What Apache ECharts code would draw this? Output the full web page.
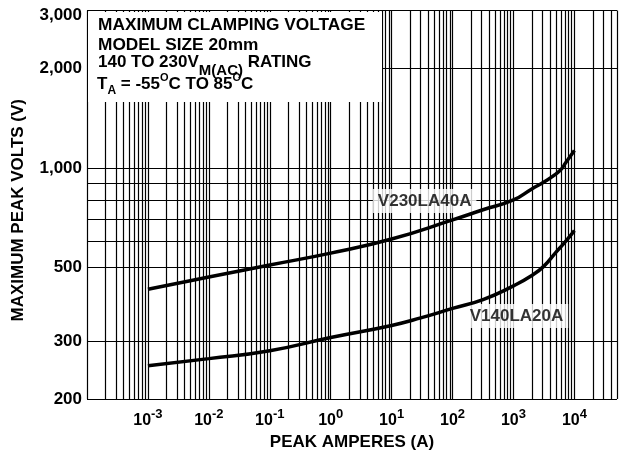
<!DOCTYPE html>
<html><head><meta charset="utf-8">
<script src="https://cdn.jsdelivr.net/npm/echarts@6/dist/echarts.min.js"></script>
<style>html,body{margin:0;padding:0;background:#fff}#c{width:625px;height:456px}</style>
</head><body><div id="c"></div>
<script>
// ---- data ----
const xTickExponents = [-3, -2, -1, 0, 1, 2, 3, 4];
const yTickValues = [200, 300, 500, 1000, 2000, 3000];
const yTickLabels = ['200', '300', '500', '1,000', '2,000', '3,000'];
const yGridValues = [200, 300, 500, 600, 700, 800, 900, 1000, 2000, 3000];
const xGridDecades = [-4, -3, -2, -1, 0, 1, 2, 3, 4];
const xGridMultipliers = [1, 2, 3, 4, 5, 6, 7, 8, 9];
const xMin = 1e-4, xMax = 5e4, yMin = 200, yMax = 3000;

const v230Amps  = [0.001, 0.01, 0.1, 1, 10, 100, 316, 1000, 2000, 3162, 5000, 6300, 7000, 10000];
const v230Volts = [430, 468, 509, 553, 610, 697, 748, 801, 865, 908, 960, 1000, 1030, 1130];
const v140Amps  = [0.001, 0.01, 0.1, 1, 10, 30, 100, 316, 1000, 2000, 3160, 5000, 7000, 10000];
const v140Volts = [252, 265, 280, 307, 334, 352, 376, 400, 440, 473, 505, 557, 597, 647];

const curveLabelNames = ['V230LA40A', 'V140LA20A'];
const curveLabelAmps  = [34.8, 1120];
const curveLabelVolts = [795, 357];

// ---- build ----
const FONT = '"Liberation Sans", Arial, Helvetica, sans-serif';
const vGrid = [];
xGridDecades.forEach(e => xGridMultipliers.forEach(m => {
  const v = m * Math.pow(10, e);
  if (v <= xMax * 1.0001) vGrid.push(v);
}));

const markData = [];
vGrid.forEach(v => markData.push({ xAxis: v }));
yGridValues.forEach(v => {
  const idx = yTickValues.indexOf(v);
  const item = { yAxis: v };
  if (idx >= 0) {
    item.label = {
      show: true, position: 'start', distance: 5,
      formatter: '{a|' + yTickLabels[idx] + '}',
      rich: { a: { color: '#000', fontFamily: FONT, fontWeight: 'bold', fontSize: 17,
                   padding: v === yMax ? [9, 0, 0, 0] : [0, 0, 0, 0] } }
    };
  }
  markData.push(item);
});

const chart = echarts.init(document.getElementById('c'), null, { renderer: 'canvas' });
const boldFont = s => 'bold ' + s + 'px ' + FONT;

chart.setOption({
  animation: false,
  backgroundColor: '#fff',
  grid: { left: 87, right: 8, top: 10.5, bottom: 57, show: false },
  xAxis: {
    type: 'log', logBase: 10, min: xMin, max: xMax, splitNumber: 9,
    axisLine: { show: false }, axisTick: { show: false }, splitLine: { show: false },
    axisLabel: {
      margin: 9, interval: 0,
      formatter: function (v) {
        const l = Math.log10(v), e = Math.round(l);
        if (Math.abs(l - e) > 1e-6 || xTickExponents.indexOf(e) < 0) return '';
        return '{b|10}{s|' + e + '}';
      },
      rich: {
        b: { fontFamily: FONT, fontWeight: 'bold', fontSize: 16, color: '#000' },
        s: { fontFamily: FONT, fontWeight: 'bold', fontSize: 13, color: '#000', padding: [0, 0, 12, 0] }
      }
    },
    name: 'PEAK AMPERES (A)', nameLocation: 'middle', nameGap: 29,
    nameTextStyle: { fontFamily: FONT, fontWeight: 'bold', fontSize: 17, color: '#000' }
  },
  yAxis: {
    type: 'log', logBase: 10, min: yMin, max: yMax,
    axisLine: { show: false }, axisTick: { show: false }, splitLine: { show: false },
    axisLabel: { show: false },
    name: 'MAXIMUM PEAK VOLTS (V)', nameLocation: 'middle', nameRotate: 90, nameGap: 60,
    nameTextStyle: { fontFamily: FONT, fontWeight: 'bold', fontSize: 17, color: '#000', padding: [0, 11, 0, 0] }
  },
  series: [
    {
      type: 'line', name: 'grid', data: [], z: 1, silent: true, clip: false,
      markLine: {
        symbol: ['none', 'none'], silent: true, animation: false, precision: 12,
        lineStyle: { color: '#000', width: 1.2, type: 'solid' },
        label: { show: false },
        emphasis: { disabled: true },
        data: markData
      }
    },
    {
      type: 'scatter', name: 'labels', z: 10, silent: true,
      data: curveLabelNames.map((n, i) => [curveLabelAmps[i], curveLabelVolts[i], n]),
      symbolSize: 1, itemStyle: { color: 'rgba(0,0,0,0)' },
      label: {
        show: true, position: 'inside',
        formatter: p => p.value[2],
        backgroundColor: '#fff', padding: [3, 5, 4, 5],
        color: '#000', fontFamily: FONT, fontWeight: 'bold', fontSize: 17
      }
    },
    {
      type: 'line', name: 'V230LA40A', z: 12, silent: true,
      data: v230Amps.map((a, i) => [a, v230Volts[i]]),
      smooth: 0.5, symbol: 'none',
      lineStyle: { color: '#000', width: 3.5 }
    },
    {
      type: 'line', name: 'V140LA20A', z: 12, silent: true,
      data: v140Amps.map((a, i) => [a, v140Volts[i]]),
      smooth: 0.5, symbol: 'none',
      lineStyle: { color: '#000', width: 3.5 }
    }
  ],
  graphic: [
    { type: 'rect', z: 100, silent: true, shape: { x: 88, y: 12, width: 294, height: 90 }, style: { fill: '#fff' } },
    { type: 'text', z: 101, silent: true, style: { x: 98, y: 24.8, verticalAlign: 'middle', text: 'MAXIMUM CLAMPING VOLTAGE', font: boldFont(17.3), fill: '#000' } },
    { type: 'text', z: 101, silent: true, style: { x: 98, y: 45, verticalAlign: 'middle', text: 'MODEL SIZE 20mm', font: boldFont(17.3), fill: '#000' } },
    { type: 'text', z: 101, silent: true, style: {
        x: 98, y: 62.8, verticalAlign: 'middle', lineHeight: 20, fill: '#000', font: boldFont(17),
        text: '{m|140 TO 230V}{sub|M(AC)}{m| RATING}',
        rich: {
          m: { font: boldFont(17) },
          sub: { font: boldFont(15), padding: [17, 0, 0, 0] }
        }
    } },
    { type: 'text', z: 101, silent: true, style: {
        x: 97, y: 84.3, verticalAlign: 'middle', lineHeight: 20, fill: '#000', font: boldFont(17),
        text: '{m|T}{sub|A}{m| = -55}{sup|O}{m|C TO 85}{sup|O}{m|C}',
        rich: {
          m: { font: boldFont(17) },
          sub: { font: boldFont(12), padding: [13, 0, 0, 0] },
          sup: { font: boldFont(11), padding: [0, 0, 12, 0] }
        }
    } }
  ]
});
</script></body></html>
